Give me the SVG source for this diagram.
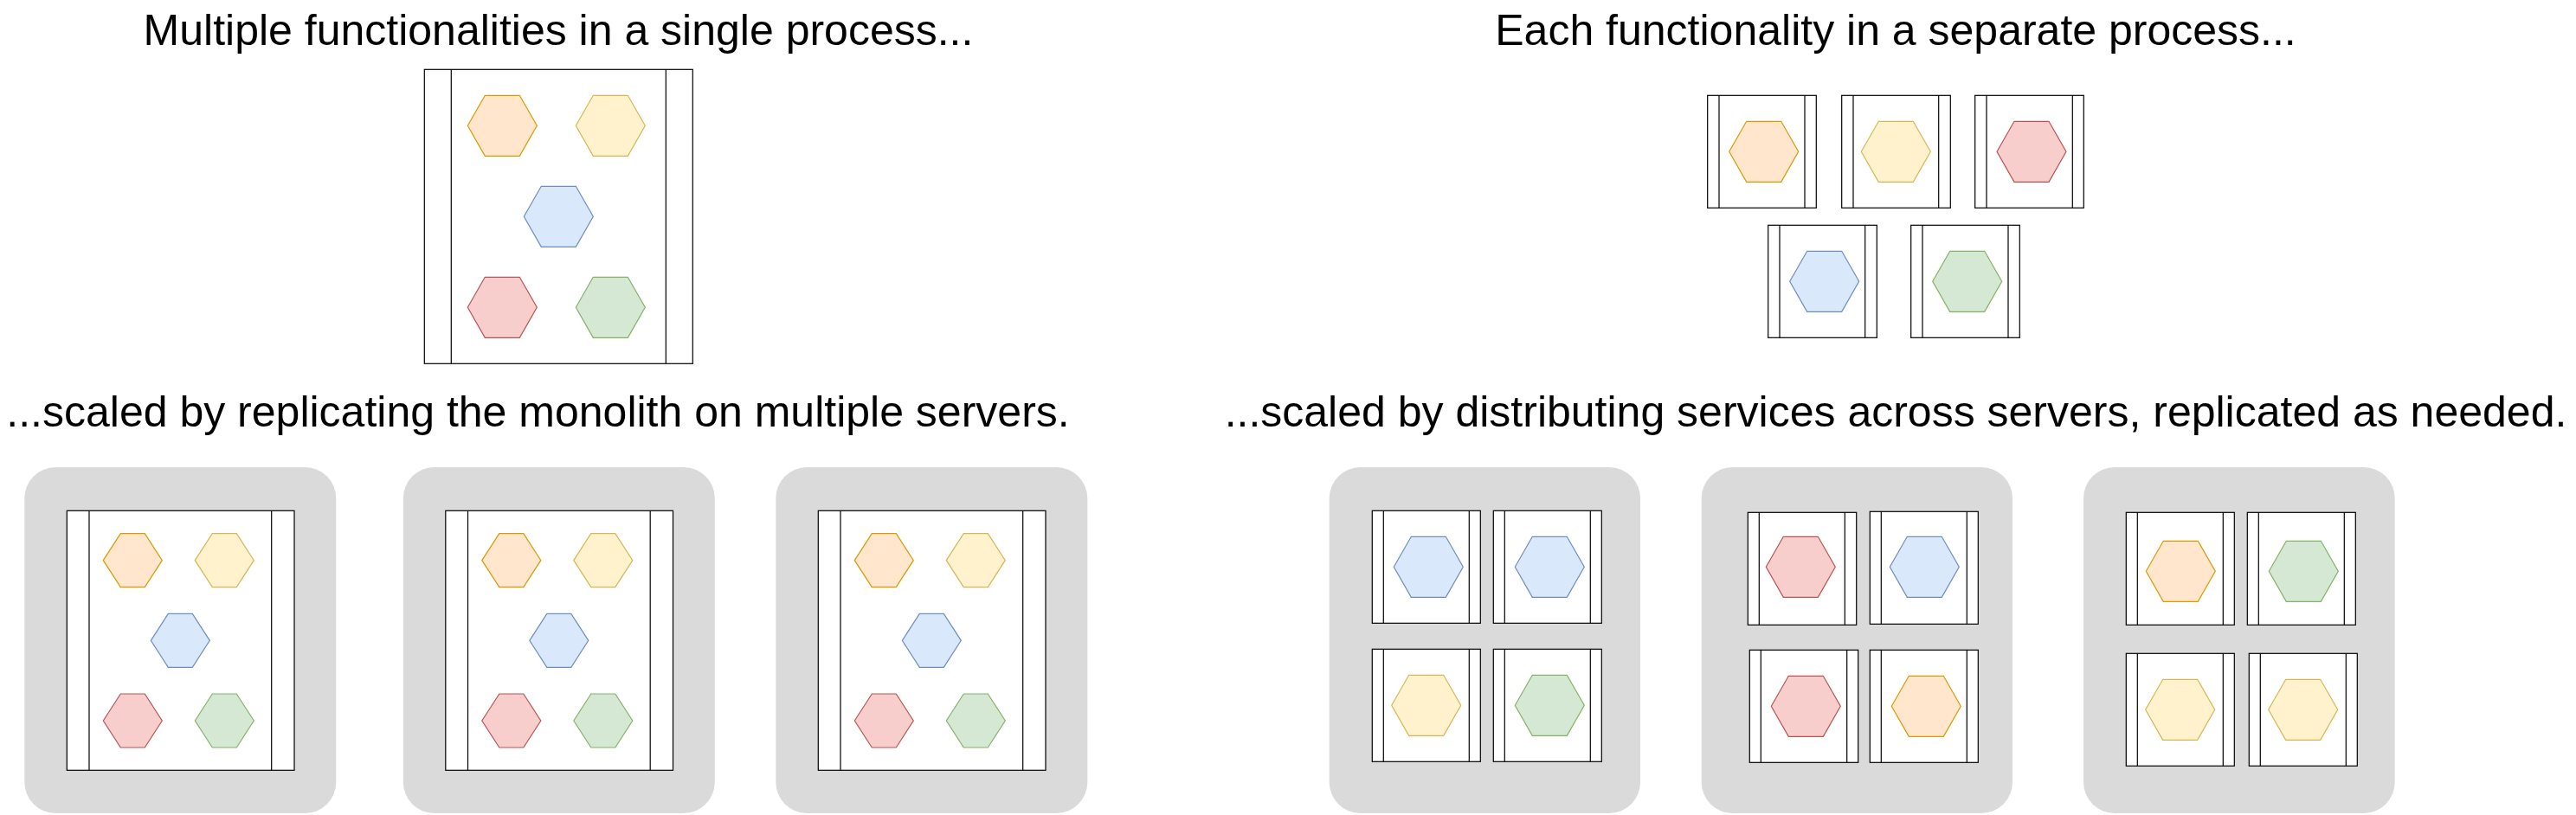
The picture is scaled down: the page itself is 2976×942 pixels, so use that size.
<svg xmlns="http://www.w3.org/2000/svg" width="2976" height="942" viewBox="0 0 2976 942">
<style>
.t{font-family:"Liberation Sans",Arial,Helvetica,sans-serif;font-size:50px;fill:#000;text-anchor:middle}
.proc rect{fill:#fff;stroke:#000;stroke-width:1.2}
.proc line{stroke:#000;stroke-width:1.2}
.srv{fill:#dadada}
.o{fill:#ffe6cc;stroke:#d79b00;stroke-width:1.2}
.y{fill:#fff2cc;stroke:#d6b656;stroke-width:1.2}
.b{fill:#dae8fc;stroke:#6c8ebf;stroke-width:1.2}
.r{fill:#f8cecc;stroke:#b85450;stroke-width:1.2}
.g{fill:#d5e8d4;stroke:#82b366;stroke-width:1.2}
</style>
<defs>
<polygon id="hexL" points="0,35 20,0 60,0 80,35 60,70 20,70"/>
<polygon id="hexS" points="0,31 20,0 48,0 68,31 48,62 20,62"/>
</defs>
<rect width="2976" height="942" fill="#fff"/>
<g id="titles">
<text class="t" x="645" y="52">Multiple functionalities in a single process...</text>
<text class="t" x="2190" y="52">Each functionality in a separate process...</text>
<text class="t" x="621.5" y="493">...scaled by replicating the monolith on multiple servers.</text>
<text class="t" x="2190" y="493">...scaled by distributing services across servers, replicated as needed.</text>
</g>
<g id="connectors"></g>

<g id="monolith" class="proc">
<rect x="490.3" y="80.3" width="310" height="340"/>
<line x1="521.3" y1="80.3" x2="521.3" y2="420.3"/>
<line x1="769.3" y1="80.3" x2="769.3" y2="420.3"/>
<use href="#hexL" x="540.3" y="110.3" class="o"/>
<use href="#hexL" x="665.3" y="110.3" class="y"/>
<use href="#hexL" x="605.3" y="215.3" class="b"/>
<use href="#hexL" x="540.3" y="320.3" class="r"/>
<use href="#hexL" x="665.3" y="320.3" class="g"/>
</g>

<g id="svc-orange" class="proc">
<rect x="1972.7" y="110.3" width="125.6" height="130"/>
<line x1="1986" y1="110.3" x2="1986" y2="240.3"/><line x1="2085" y1="110.3" x2="2085" y2="240.3"/>
<use href="#hexL" x="1997.7" y="140.3" class="o"/>
</g>
<g id="svc-yellow" class="proc">
<rect x="2127.7" y="110.3" width="125.6" height="130"/>
<line x1="2141" y1="110.3" x2="2141" y2="240.3"/><line x1="2239.7" y1="110.3" x2="2239.7" y2="240.3"/>
<use href="#hexL" x="2150.3" y="140.3" class="y"/>
</g>
<g id="svc-red" class="proc">
<rect x="2281.7" y="110.3" width="125.6" height="130"/>
<line x1="2295" y1="110.3" x2="2295" y2="240.3"/><line x1="2394.3" y1="110.3" x2="2394.3" y2="240.3"/>
<use href="#hexL" x="2307" y="140.3" class="r"/>
</g>
<g id="svc-blue" class="proc">
<rect x="2042.7" y="260.3" width="125.6" height="130"/>
<line x1="2056" y1="260.3" x2="2056" y2="390.3"/><line x1="2154.7" y1="260.3" x2="2154.7" y2="390.3"/>
<use href="#hexL" x="2067.7" y="290.3" class="b"/>
</g>
<g id="svc-green" class="proc">
<rect x="2207.7" y="260.3" width="125.6" height="130"/>
<line x1="2221" y1="260.3" x2="2221" y2="390.3"/><line x1="2320" y1="260.3" x2="2320" y2="390.3"/>
<use href="#hexL" x="2232.7" y="290.3" class="g"/>
</g>

<g id="mono-server-1">
<rect class="srv" x="28.3" y="540" width="360" height="400" rx="36"/>
<g class="proc">
<rect x="77.3" y="590.3" width="262.7" height="300"/>
<line x1="103" y1="590.3" x2="103" y2="890.3"/><line x1="313.7" y1="590.3" x2="313.7" y2="890.3"/>
<use href="#hexS" x="119.3" y="616.7" class="o"/>
<use href="#hexS" x="225.3" y="616.7" class="y"/>
<use href="#hexS" x="174.3" y="709.3" class="b"/>
<use href="#hexS" x="119.3" y="802" class="r"/>
<use href="#hexS" x="225.3" y="802" class="g"/>
</g>
</g>
<g id="mono-server-2" transform="translate(437.5,0)">
<rect class="srv" x="28.3" y="540" width="360" height="400" rx="36"/>
<g class="proc">
<rect x="77.3" y="590.3" width="262.7" height="300"/>
<line x1="103" y1="590.3" x2="103" y2="890.3"/><line x1="313.7" y1="590.3" x2="313.7" y2="890.3"/>
<use href="#hexS" x="119.3" y="616.7" class="o"/>
<use href="#hexS" x="225.3" y="616.7" class="y"/>
<use href="#hexS" x="174.3" y="709.3" class="b"/>
<use href="#hexS" x="119.3" y="802" class="r"/>
<use href="#hexS" x="225.3" y="802" class="g"/>
</g>
</g>
<g id="mono-server-3" transform="translate(868,0)">
<rect class="srv" x="28.3" y="540" width="360" height="400" rx="36"/>
<g class="proc">
<rect x="77.3" y="590.3" width="262.7" height="300"/>
<line x1="103" y1="590.3" x2="103" y2="890.3"/><line x1="313.7" y1="590.3" x2="313.7" y2="890.3"/>
<use href="#hexS" x="119.3" y="616.7" class="o"/>
<use href="#hexS" x="225.3" y="616.7" class="y"/>
<use href="#hexS" x="174.3" y="709.3" class="b"/>
<use href="#hexS" x="119.3" y="802" class="r"/>
<use href="#hexS" x="225.3" y="802" class="g"/>
</g>
</g>

<g id="micro-server-1">
<rect class="srv" x="1535.7" y="540" width="359.3" height="400" rx="36"/>
<g class="proc">
<rect x="1585.3" y="590.3" width="125" height="130"/>
<line x1="1598.3" y1="590.3" x2="1598.3" y2="720.3"/><line x1="1697.3" y1="590.3" x2="1697.3" y2="720.3"/>
<use href="#hexL" x="1610.3" y="620.3" class="b"/>
<rect x="1725.3" y="590.3" width="125" height="130"/>
<line x1="1738.3" y1="590.3" x2="1738.3" y2="720.3"/><line x1="1837.3" y1="590.3" x2="1837.3" y2="720.3"/>
<use href="#hexL" x="1750.3" y="620.3" class="b"/>
<rect x="1585.3" y="750.3" width="125" height="130"/>
<line x1="1598.3" y1="750.3" x2="1598.3" y2="880.3"/><line x1="1697.3" y1="750.3" x2="1697.3" y2="880.3"/>
<use href="#hexL" x="1607.7" y="780.3" class="y"/>
<rect x="1725.3" y="750.3" width="125" height="130"/>
<line x1="1738.3" y1="750.3" x2="1738.3" y2="880.3"/><line x1="1837.3" y1="750.3" x2="1837.3" y2="880.3"/>
<use href="#hexL" x="1750.3" y="780.3" class="g"/>
</g>
</g>
<g id="micro-server-2">
<rect class="srv" x="1965.7" y="540" width="359.3" height="400" rx="36"/>
<g class="proc">
<rect x="2019.3" y="592.3" width="125.4" height="130"/>
<line x1="2032.3" y1="592.3" x2="2032.3" y2="722.3"/><line x1="2131.3" y1="592.3" x2="2131.3" y2="722.3"/>
<use href="#hexL" x="2040.3" y="620.3" class="r"/>
<rect x="2160.3" y="591.3" width="125" height="130"/>
<line x1="2173.3" y1="591.3" x2="2173.3" y2="721.3"/><line x1="2272.3" y1="591.3" x2="2272.3" y2="721.3"/>
<use href="#hexL" x="2183.3" y="620.3" class="b"/>
<rect x="2021.3" y="751.3" width="125.4" height="130"/>
<line x1="2034.3" y1="751.3" x2="2034.3" y2="881.3"/><line x1="2133.7" y1="751.3" x2="2133.7" y2="881.3"/>
<use href="#hexL" x="2046.3" y="781.3" class="r"/>
<rect x="2160.3" y="751.3" width="125" height="130"/>
<line x1="2173.3" y1="751.3" x2="2173.3" y2="881.3"/><line x1="2272.3" y1="751.3" x2="2272.3" y2="881.3"/>
<use href="#hexL" x="2185.3" y="781.3" class="o"/>
</g>
</g>
<g id="micro-server-3">
<rect class="srv" x="2407" y="540" width="359.7" height="400" rx="36"/>
<g class="proc">
<rect x="2456.3" y="592.3" width="125" height="130"/>
<line x1="2469.3" y1="592.3" x2="2469.3" y2="722.3"/><line x1="2568.3" y1="592.3" x2="2568.3" y2="722.3"/>
<use href="#hexL" x="2479.3" y="625.3" class="o"/>
<rect x="2596.3" y="592.3" width="125" height="130"/>
<line x1="2609.3" y1="592.3" x2="2609.3" y2="722.3"/><line x1="2708.3" y1="592.3" x2="2708.3" y2="722.3"/>
<use href="#hexL" x="2621.3" y="625.3" class="g"/>
<rect x="2456.3" y="755.3" width="125" height="130"/>
<line x1="2469.3" y1="755.3" x2="2469.3" y2="885.3"/><line x1="2568.3" y1="755.3" x2="2568.3" y2="885.3"/>
<use href="#hexL" x="2478.7" y="785.3" class="y"/>
<rect x="2598.3" y="755.3" width="125" height="130"/>
<line x1="2611.3" y1="755.3" x2="2611.3" y2="885.3"/><line x1="2710.3" y1="755.3" x2="2710.3" y2="885.3"/>
<use href="#hexL" x="2620.7" y="785.3" class="y"/>
</g>
</g>
</svg>
